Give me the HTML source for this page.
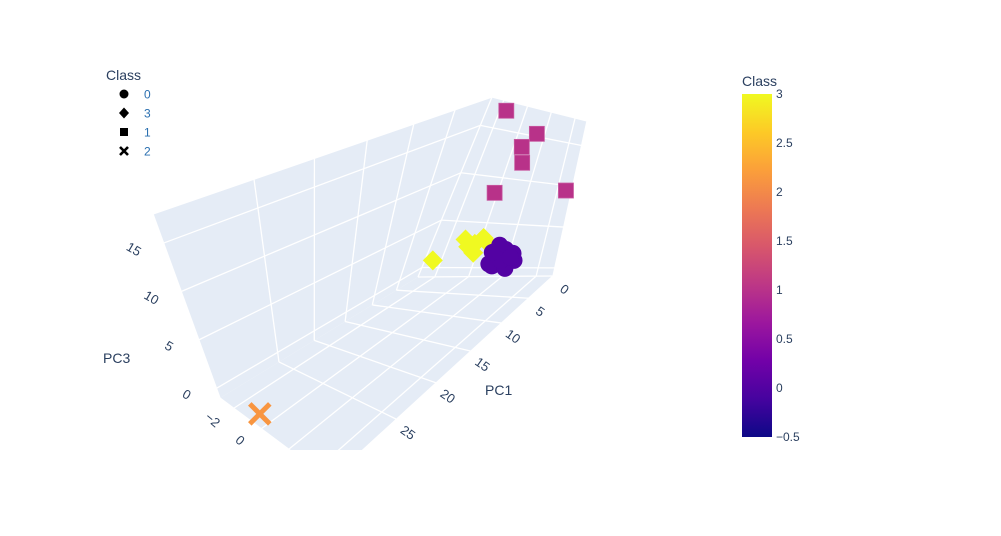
<!DOCTYPE html>
<html><head><meta charset="utf-8"><style>
body{margin:0;background:#fff;font-family:"Liberation Sans",sans-serif}
svg text{font-family:"Liberation Sans",sans-serif;fill:#2a3f5f}
</style></head><body>
<svg id="chart" width="1001" height="531" viewBox="0 0 1001 531">
<defs>
<clipPath id="sceneClip"><rect x="0" y="0" width="700" height="450"/></clipPath>
<linearGradient id="plasma" x1="0" y1="1" x2="0" y2="0">
<stop offset="0" stop-color="#0d0887"/><stop offset="0.111" stop-color="#46039f"/><stop offset="0.222" stop-color="#7201a8"/><stop offset="0.333" stop-color="#9c179e"/><stop offset="0.444" stop-color="#bd3786"/><stop offset="0.556" stop-color="#d8576b"/><stop offset="0.667" stop-color="#ed7953"/><stop offset="0.778" stop-color="#fb9f3a"/><stop offset="0.889" stop-color="#fdca26"/><stop offset="1" stop-color="#f0f921"/>
</linearGradient>
</defs>
<g id="scene" clip-path="url(#sceneClip)"></g>
<g id="legend">
<text x="106" y="80" font-size="14">Class</text>
<g><circle cx="124" cy="94" r="4.5" fill="#000"/><text x="144" y="98.5" font-size="12" style="fill:#2a6fb0">0</text></g>
<g><path d="M124 107.5 L129 113 L124 118.5 L119 113 Z" fill="#000"/><text x="144" y="117.5" font-size="12" style="fill:#2a6fb0">3</text></g>
<g><rect x="120" y="128" width="8" height="8" fill="#000"/><text x="144" y="136.5" font-size="12" style="fill:#2a6fb0">1</text></g>
<g><path d="M120 147 L128 155 M128 147 L120 155" stroke="#000" stroke-width="2.6"/><text x="144" y="155.5" font-size="12" style="fill:#2a6fb0">2</text></g>
</g>
<g id="colorbar">
<text x="742" y="86" font-size="14">Class</text>
<rect x="742" y="94" width="30" height="343" fill="url(#plasma)"/>
</g>
</svg>
<script>
const NS="http://www.w3.org/2000/svg";
// data arrays
const class0X=[0.5,1.0,0.3,1.5,0.8,0.2,1.2,0.6,0.9,0.4,1.6,0.7];
const class0Y=[1.2,1.8,2.3,1.5,2.6,1.0,2.0,1.4,2.2,1.7,2.5,1.1];
const class0Z=[1.5,2.2,1.8,0.8,1.2,0.5,2.6,2.8,0.3,1.0,1.9,2.0];
const class3X=[0.5,0.8,0.3,1.0,0.6,0.4,1.5];
const class3Y=[-0.2,0.3,-0.6,0.0,0.6,-0.9,-2.2];
const class3Z=[2.8,3.6,2.4,2.0,3.0,3.2,1.2];
const class1X=[0,0,0,0,0,0];
const class1Y=[-1.5,1.4,0.6,1.0,-0.2,4.6];
const class1Z=[17,15.3,13.6,11.9,8.3,9.4];
const class2X=[31];
const class2Y=[-0.8];
const class2Z=[-1];
const xTicks=[0,5,10,15,20,25];
const yTicks=[-2,0];
const yGrid=[-2,0,2,4];
const zTicks=[0,5,10,15];
const cbTicks=[3,2.5,2,1.5,1,0.5,0,-0.5];
const cbLabels=["3","2.5","2","1.5","1","0.5","0","\u22120.5"];

const XMAX=32,YMIN=-3,YMAX=5,ZMIN=-1,ZMAX=18,WARP=0.66;
const C={"000":[418,277],"001":[492,97],"010":[553,276],"011":[587,121],"100":[220,398],"101":[153,214],"110":[330,480],"111":[270,296]};
function warp(t){return t*WARP/(1-(1-WARP)*t);}
function P(x,y,z){
 const u=warp(x/XMAX),v=(y-YMIN)/(YMAX-YMIN),w=(z-ZMIN)/(ZMAX-ZMIN);
 let sx=0,sy=0;
 for(const a of [0,1])for(const b of [0,1])for(const c of [0,1]){
  const k=(a?u:1-u)*(b?v:1-v)*(c?w:1-w);const p=C[""+a+b+c];sx+=k*p[0];sy+=k*p[1];}
 return [sx,sy];
}
const scene=document.getElementById('scene');
function mk(tag,attrs,parent){const e=document.createElementNS(NS,tag);for(const k in attrs)e.setAttribute(k,attrs[k]);(parent||scene).appendChild(e);return e;}
function poly(pts){return pts.map(p=>p.join(',')).join(' ');}
let e;
e=mk('polygon',{points:poly([P(0,YMIN,ZMIN),P(0,YMIN,ZMAX),P(XMAX,YMIN,ZMAX),P(XMAX,YMIN,ZMIN)]),fill:'#E5ECF6'});


e=mk('polygon',{points:poly([P(0,YMIN,ZMIN),P(0,YMIN,ZMAX),P(0,YMAX,ZMAX),P(0,YMAX,ZMIN)]),fill:'#E5ECF6'});


e=mk('polygon',{points:poly([P(0,YMIN,ZMIN),P(0,YMAX,ZMIN),P(XMAX,YMAX,ZMIN),P(XMAX,YMIN,ZMIN)]),fill:'#E5ECF6'});


function line(a,b){const l=mk('line',{x1:a[0],y1:a[1],x2:b[0],y2:b[1],stroke:'#fff','stroke-width':1.3});

}
xTicks.concat([XMAX]).forEach(x=>{line(P(x,YMIN,ZMIN),P(x,YMIN,ZMAX));line(P(x,YMIN,ZMIN),P(x,YMAX,ZMIN));});
zTicks.concat([ZMAX]).forEach(z=>{line(P(0,YMIN,z),P(XMAX,YMIN,z));line(P(0,YMIN,z),P(0,YMAX,z));});
yGrid.concat([YMAX]).forEach(y=>{line(P(0,y,ZMIN),P(0,y,ZMAX));line(P(0,y,ZMIN),P(XMAX,y,ZMIN));});
function draw(X,Y,Z,fn){for(let i=0;i<X.length;i++){fn(P(X[i],Y[i],Z[i]));}}
draw(class3X,class3Y,class3Z,p=>{const s=10;const m=mk('path',{d:`M${p[0]} ${p[1]-s} L${p[0]+s} ${p[1]} L${p[0]} ${p[1]+s} L${p[0]-s} ${p[1]} Z`,fill:'#f0f921'});

});
draw(class0X,class0Y,class0Z,p=>{const m=mk('circle',{cx:p[0],cy:p[1],r:8.5,fill:'#5302a3'});

});
draw(class1X,class1Y,class1Z,p=>{const m=mk('rect',{x:p[0]-7.5,y:p[1]-7.5,width:15,height:15,fill:'#b83289',stroke:'#c85aa0','stroke-width':0.8});

});
draw(class2X,class2Y,class2Z,p=>{const s=10;const m=mk('path',{d:`M${p[0]-s} ${p[1]-s} L${p[0]+s} ${p[1]+s} M${p[0]+s} ${p[1]-s} L${p[0]-s} ${p[1]+s}`,stroke:'#f89540','stroke-width':5});

});
function tl(txt,p,rot,name){const t=mk('text',{x:p[0],y:p[1],'font-size':13,'text-anchor':'middle',transform:`rotate(${rot} ${p[0]} ${p[1]})`});t.textContent=txt;

}
xTicks.forEach(x=>{const p=P(x,YMAX,ZMIN);tl(String(x),[p[0]+9,p[1]+17],35,'pc1-tick-label');});
yTicks.forEach(y=>{const p=P(XMAX,y,ZMIN);tl(y<0?'\u2212'+(-y):String(y),[p[0]-24,p[1]+15],40,'pc2-tick-label');});
zTicks.forEach(z=>{const p=P(XMAX,YMIN,z);tl(String(z),[p[0]-32,p[1]+10],30,'pc3-tick-label');});
let t=mk('text',{x:485,y:395,'font-size':14});t.textContent='PC1';


t=mk('text',{x:103,y:363,'font-size':14});t.textContent='PC3';


const cb=document.getElementById('colorbar');
function cbY(v){return 94+(3-v)*(343/3.5);}
cbTicks.forEach((v,i)=>{const tt=mk('text',{x:776,y:cbY(v)+4,'font-size':12},cb);tt.textContent=cbLabels[i];

});
</script>
</body></html>
